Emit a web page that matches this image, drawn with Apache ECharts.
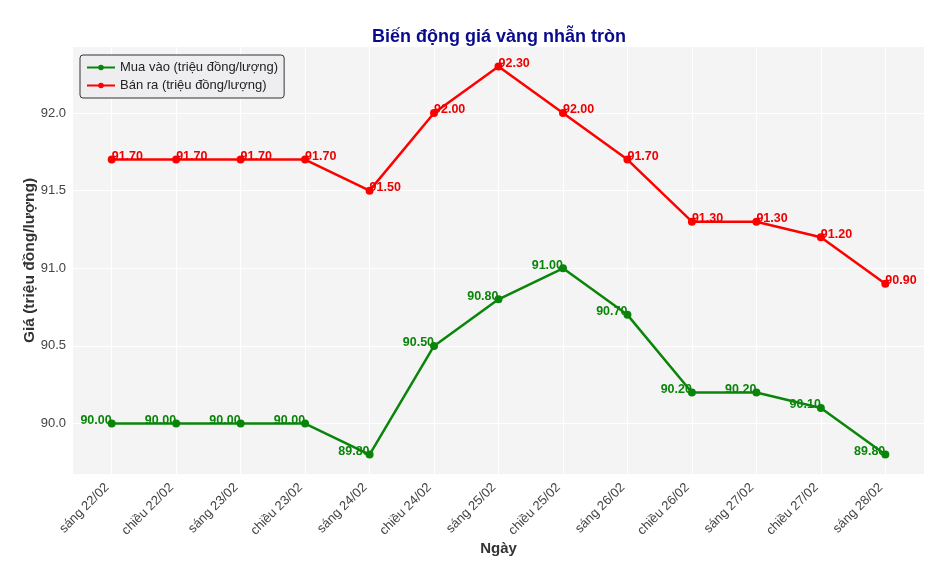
<!DOCTYPE html>
<html><head><meta charset="utf-8">
<script src="https://cdn.jsdelivr.net/npm/echarts@6/dist/echarts.min.js"></script>
<style>html,body{margin:0;padding:0;background:#fff}#c{width:951px;height:561px}</style>
</head><body><div id="c"></div>
<script>
const categories = ['sáng 22/02','chiều 22/02','sáng 23/02','chiều 23/02','sáng 24/02','chiều 24/02','sáng 25/02','chiều 25/02','sáng 26/02','chiều 26/02','sáng 27/02','chiều 27/02','sáng 28/02'];
const muaVao = [90.00,90.00,90.00,90.00,89.80,90.50,90.80,91.00,90.70,90.20,90.20,90.10,89.80];
const banRa = [91.70,91.70,91.70,91.70,91.50,92.00,92.30,92.00,91.70,91.30,91.30,91.20,90.90];
const yTicks = [90.0,90.5,91.0,91.5,92.0];
const xTicks = categories.map((c,i)=>i);

const FONT = '"Liberation Sans", Arial, sans-serif';
const chart = echarts.init(document.getElementById('c'), null, {renderer:'canvas'});
chart.setOption({
  animation:false,
  textStyle:{fontFamily:FONT},
  title:{text:'Biến động giá vàng nhẫn tròn', left:494, textAlign:'center', top:23,
    textStyle:{fontFamily:FONT, fontSize:18, fontWeight:'bold', color:'#0a0a8c'}},
  legend:{left:80, top:55, orient:'vertical', itemGap:5, itemWidth:28, itemHeight:7,
    padding:[6,6,6,6], borderColor:'#333', borderWidth:1, borderRadius:3,
    backgroundColor:'#eeeef0',
    textStyle:{fontFamily:FONT, fontSize:13, color:'#222'},
    data:['Mua vào (triệu đồng/lượng)','Bán ra (triệu đồng/lượng)']},
  grid:{left:73, right:27, top:47, bottom:87, show:true, backgroundColor:'#f4f4f4', borderWidth:0,
    outerBoundsMode:'none', containLabel:false},
  xAxis:{type:'value', min:-0.6, max:12.6,
    name:'Ngày', nameLocation:'middle', nameGap:67, nameMoveOverlap:false,
    nameTextStyle:{fontFamily:FONT, fontSize:15, fontWeight:'bold', color:'#333'},
    axisLine:{show:false},
    axisTick:{show:false, customValues:xTicks},
    axisLabel:{customValues:xTicks, rotate:45, margin:16, verticalAlign:'bottom', fontSize:13, color:'#444', fontFamily:FONT,
      formatter:v=>categories[Math.round(v)]},
    splitLine:{show:true, lineStyle:{color:'#ffffff', width:1}}},
  yAxis:{type:'value', min:89.675, max:92.425,
    name:'Giá (triệu đồng/lượng)', nameLocation:'middle', nameGap:35, nameRotate:90, nameMoveOverlap:false,
    nameTextStyle:{fontFamily:FONT, fontSize:15.5, fontWeight:'bold', color:'#333'},
    axisLine:{show:false},
    axisTick:{show:false, customValues:yTicks},
    axisLabel:{customValues:yTicks, margin:7, fontSize:13, color:'#444', fontFamily:FONT,
      formatter:v=>v.toFixed(1)},
    splitLine:{show:true, lineStyle:{color:'#ffffff', width:1}}},
  series:[
    {name:'Mua vào (triệu đồng/lượng)', type:'line', data:muaVao.map((v,i)=>[i,v]),
      color:'#0a850a', symbol:'circle', symbolSize:8, lineStyle:{width:2.5, color:'#0a850a'},
      itemStyle:{color:'#0a850a'},
      label:{show:true, position:'left', distance:-4, offset:[0,-3], fontSize:12.5, fontWeight:'bold',
        color:'#0a850a', fontFamily:FONT, formatter:p=>p.value[1].toFixed(2)}},
    {name:'Bán ra (triệu đồng/lượng)', type:'line', data:banRa.map((v,i)=>[i,v]),
      color:'#ff0000', symbol:'circle', symbolSize:8, lineStyle:{width:2.5, color:'#ff0000'},
      itemStyle:{color:'#ff0000'},
      label:{show:true, position:'right', distance:-4, offset:[0,-3], fontSize:12.5, fontWeight:'bold',
        color:'#ee0000', fontFamily:FONT, formatter:p=>p.value[1].toFixed(2)}}
  ]
});
</script></body></html>
